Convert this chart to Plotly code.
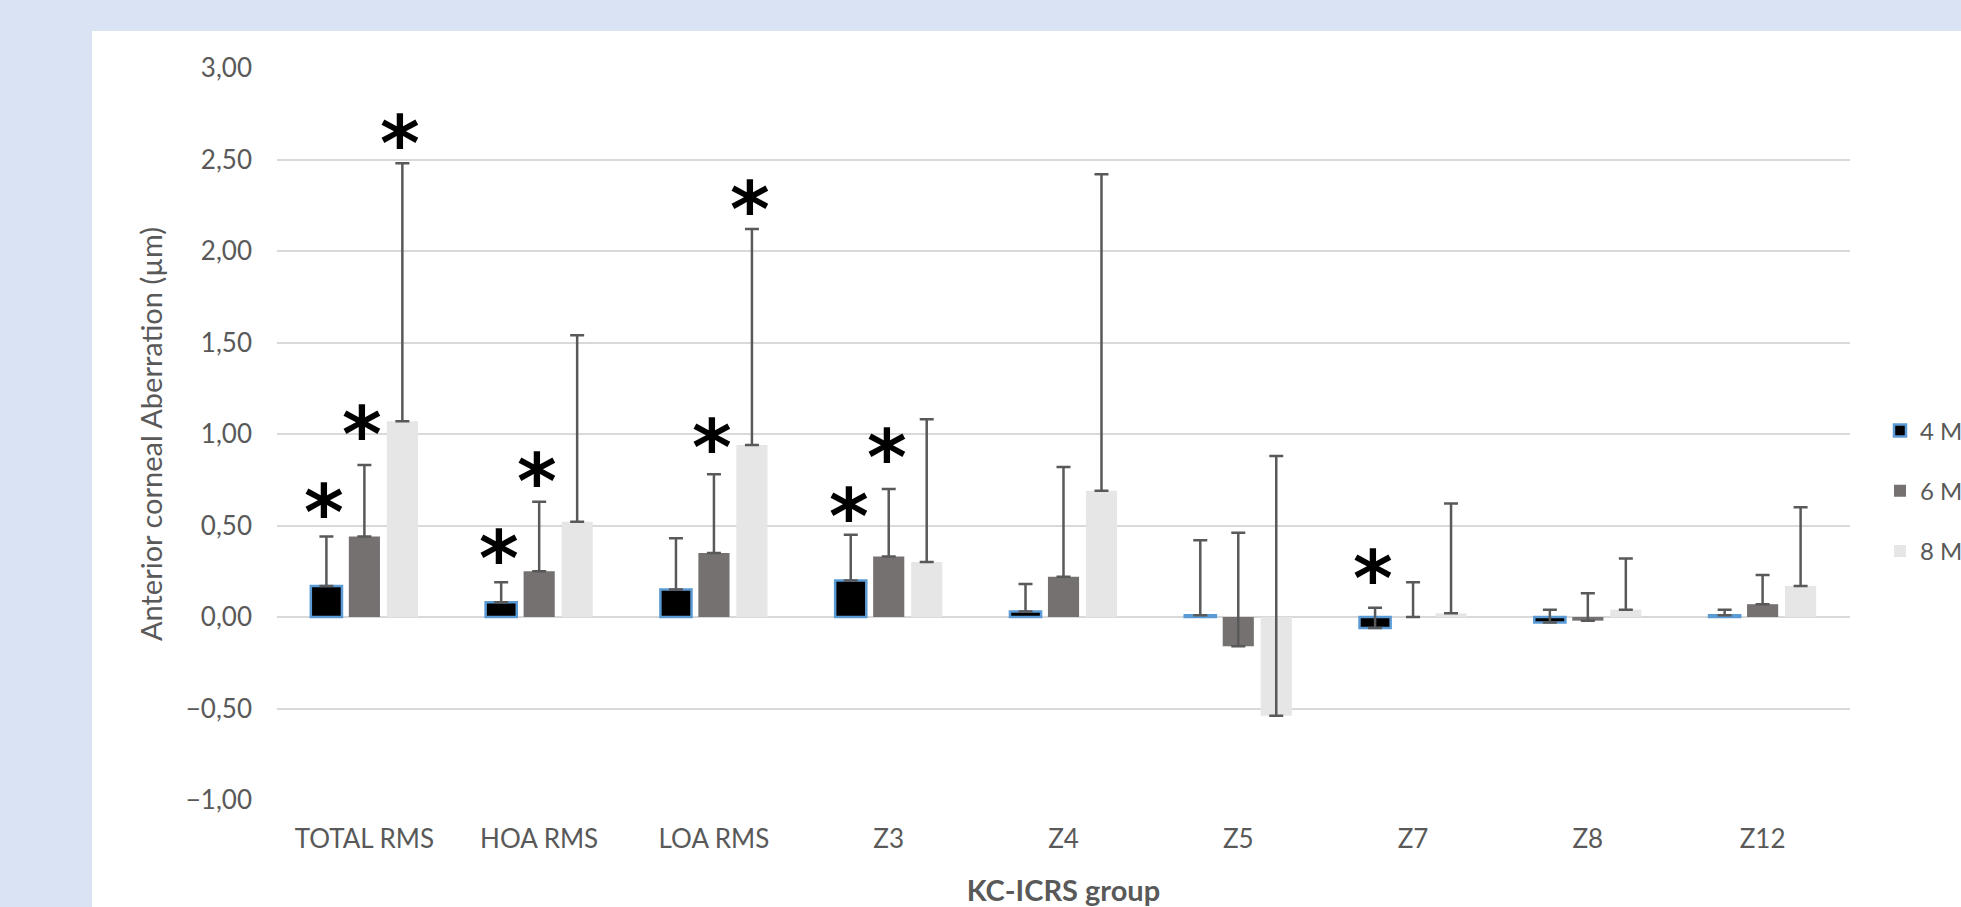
import plotly.graph_objects as go

categories = ["TOTAL RMS", "HOA RMS", "LOA RMS", "Z3", "Z4", "Z5", "Z7", "Z8", "Z12"]
series_names = ["4 M", "6 M", "8 M"]

m4 = [0.17, 0.08, 0.15, 0.20, 0.03, 0.01, -0.06, -0.03, 0.01]
m4_err = [0.27, 0.11, 0.28, 0.25, 0.15, 0.41, 0.11, 0.07, 0.03]

m6 = [0.44, 0.25, 0.35, 0.33, 0.22, -0.16, 0.00, -0.02, 0.07]
m6_err = [0.39, 0.38, 0.43, 0.37, 0.60, 0.62, 0.19, 0.15, 0.16]

m8 = [1.07, 0.52, 0.94, 0.30, 0.69, -0.54, 0.02, 0.04, 0.17]
m8_err = [1.41, 1.02, 1.18, 0.78, 1.73, 1.42, 0.60, 0.28, 0.43]

# significance asterisks: (category, series index, level of asterisk centre)
asterisks = [
    ("TOTAL RMS", 0, 0.64), ("TOTAL RMS", 1, 1.07), ("TOTAL RMS", 2, 2.66),
    ("HOA RMS", 0, 0.39), ("HOA RMS", 1, 0.81),
    ("LOA RMS", 1, 1.00), ("LOA RMS", 2, 2.30),
    ("Z3", 0, 0.62), ("Z3", 1, 0.94),
    ("Z7", 0, 0.28),
]

W, H = 1961, 907
L, R, T, B = 277, 111, 68, 107
PW = W - L - R
PH = H - T - B

FONT = "Lato, 'Open Sans', sans-serif"
TXT = "#595959"

fills = ["#000000", "#767171", "#E7E6E6"]
lines = ["#5B9BD5", "rgba(0,0,0,0)", "rgba(0,0,0,0)"]
lwidths = [2.5, 0, 0]

fig = go.Figure()
for i, (vals, errs) in enumerate([(m4, m4_err), (m6, m6_err), (m8, m8_err)]):
    fig.add_trace(go.Bar(
        x=categories, y=vals, name=series_names[i], legendgroup=f"g{i}",
        marker=dict(color=fills[i], line=dict(color=lines[i], width=lwidths[i])),
        error_y=dict(type="data", array=errs, arrayminus=[0] * len(errs),
                     symmetric=False, color="#595959", thickness=2.5, width=7),
    ))

slot = PW / len(categories) * (1 - 0.348) / 3
for cat, s, lvl in asterisks:
    fig.add_annotation(
        x=cat, y=lvl, xref="x", yref="y", text="<b>*</b>", showarrow=False,
        xshift=(s - 1) * slot - 2, yshift=-13, yanchor="middle",
        font=dict(family="DejaVu Sans", size=76, color="#000000"),
    )

# white chart panel on blue background
fig.add_shape(type="rect", xref="paper", yref="paper", layer="below",
              x0=(92 - L) / PW, x1=(W + 20 - L) / PW,
              y0=-(B + 20) / PH, y1=(H - B - 31) / PH,
              fillcolor="#FFFFFF", line=dict(width=0))

fig.update_layout(
    width=W, height=H,
    margin=dict(l=L, r=R, t=T, b=B, autoexpand=False),
    paper_bgcolor="#DAE3F3", plot_bgcolor="#FFFFFF",
    barmode="group", bargap=0.348, bargroupgap=0.18,
    separators=", ",
    font=dict(family=FONT, size=26, color=TXT),
    showlegend=True,
    legend=dict(x=(1880 - L) / PW, xanchor="left", y=(H - B - 491) / PH, yanchor="middle",
                tracegroupgap=26, font=dict(size=24, color=TXT), bgcolor="rgba(0,0,0,0)"),
    xaxis=dict(showgrid=False, showline=False, ticks="", ticklabelstandoff=21,
               tickfont=dict(size=26, color=TXT),
               title=dict(text="<b>KC-ICRS group</b>", font=dict(size=29, color=TXT), standoff=27)),
    yaxis=dict(range=[-1, 3], dtick=0.5, tickformat=".2f", showgrid=True,
               gridcolor="#D9D9D9", gridwidth=1.5, zeroline=True, zerolinecolor="#D9D9D9",
               zerolinewidth=1.5, showline=False, ticks="", ticklabelstandoff=24,
               tickfont=dict(size=26, color=TXT),
               title=dict(text="Anterior corneal Aberration (µm)", font=dict(size=29, color=TXT),
                          standoff=14)),
)

fig.write_html("out.html")
